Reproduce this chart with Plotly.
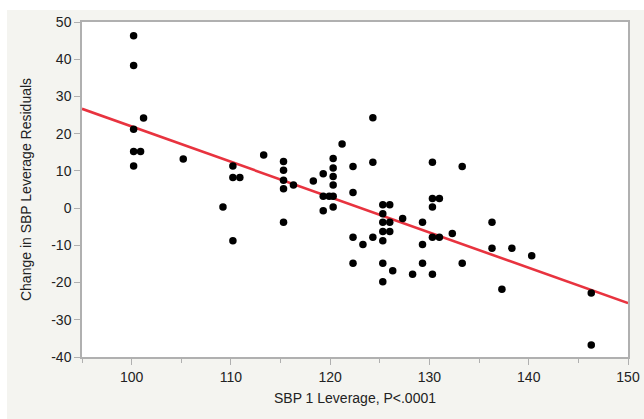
import numpy as np
import plotly.graph_objects as go

# Data (x = SBP 1 Leverage, y = Change in SBP Leverage Residuals)
sbp1_leverage = [
    100.2, 100.2, 101.2, 100.2, 100.2, 100.9, 100.2, 105.2,
    110.2, 110.2, 110.9, 109.2, 110.2, 113.3,
    115.3, 115.3, 115.3, 115.3, 116.3, 115.3, 118.3,
    119.3, 119.3, 119.9, 120.3, 119.3,
    120.3, 120.3, 120.3, 120.3, 120.3, 121.2,
    122.3, 122.3, 122.3, 122.3, 123.3,
    124.3, 124.3, 124.3,
    125.3, 126.0, 125.3, 125.3, 126.0, 125.3, 126.0, 125.3, 125.3, 126.3, 125.3,
    127.3, 128.3, 129.3, 129.3, 129.3,
    130.3, 130.3, 131.0, 130.3, 130.3, 131.0, 130.3,
    132.3, 133.3, 133.3, 136.3, 136.3, 138.3, 137.3, 140.3, 146.3, 146.3,
]
change_residuals = [
    46.3, 38.3, 24.2, 21.2, 15.2, 15.2, 11.3, 13.2,
    11.3, 8.2, 8.2, 0.3, -8.8, 14.3,
    12.5, 10.2, 7.5, 5.2, 6.2, -3.8, 7.3,
    9.2, 3.2, 3.2, 3.2, -0.7,
    13.3, 10.8, 8.5, 6.2, 0.3, 17.2,
    11.2, 4.2, -7.8, -14.8, -9.8,
    24.3, 12.3, -7.8,
    0.9, 0.9, -1.5, -3.8, -3.8, -6.3, -6.3, -8.8, -14.8, -16.8, -19.8,
    -2.8, -17.8, -3.8, -9.8, -14.8,
    12.3, 2.6, 2.6, 0.3, -7.8, -7.8, -17.8,
    -6.8, 11.2, -14.8, -3.8, -10.8, -10.8, -21.8, -12.8, -22.8, -36.8,
]

x_range = [95, 150]
y_tick_vals = [50, 40, 30, 20, 10, 0, -10, -20, -30, -40]
y_tick_text = ["50", "40", "30", "20", "10", "0", "-10", "-20", "-30", "-40"]
x_tick_vals = [100, 110, 120, 130, 140, 150]
x_tick_text = ["100", "110", "120", "130", "140", "150"]

slope, intercept = np.polyfit(sbp1_leverage, change_residuals, 1)
fit_x = np.array(x_range, dtype=float)
fit_y = intercept + slope * fit_x

fig = go.Figure()
fig.add_trace(go.Scatter(
    x=fit_x, y=fit_y, mode="lines",
    line=dict(color="#e8333f", width=2.6),
    hoverinfo="skip", showlegend=False,
))
fig.add_trace(go.Scatter(
    x=sbp1_leverage, y=change_residuals, mode="markers",
    marker=dict(color="black", size=7.5, line=dict(width=0)),
    showlegend=False,
))

W, H = 644, 419
ml, mr, mt, mb = 82, 16, 22, 62
pw, ph = W - ml - mr, H - mt - mb

def px2paper_x(px):
    return (px - ml) / pw

def py2paper_y(py):
    return (H - mb - py) / ph

fig.update_layout(
    width=W, height=H,
    margin=dict(l=ml, r=mr, t=mt, b=mb, autoexpand=False),
    paper_bgcolor="#f4f4f0",
    plot_bgcolor="white",
    font=dict(family="Liberation Sans, Arial, sans-serif", size=14, color="#222222"),
    shapes=[
        dict(type="rect", xref="paper", yref="paper", layer="below",
             x0=px2paper_x(0), x1=px2paper_x(7), y0=py2paper_y(H), y1=py2paper_y(0),
             fillcolor="white", line=dict(width=0)),
        dict(type="rect", xref="paper", yref="paper", layer="below",
             x0=px2paper_x(0), x1=px2paper_x(W), y0=py2paper_y(10), y1=py2paper_y(0),
             fillcolor="white", line=dict(width=0)),
    ],
    xaxis=dict(
        range=x_range, showgrid=False, zeroline=False, automargin=False,
        showline=True, linecolor="#b0b0b0", linewidth=1.5, mirror=True,
        ticks="outside", ticklen=6, tickcolor="#b0b0b0", tickwidth=1.2,
        tickvals=x_tick_vals, ticktext=x_tick_text,
        minor=dict(dtick=5, tick0=95, ticks="outside", ticklen=4,
                   tickcolor="#b0b0b0", tickwidth=1.2, showgrid=False),
        title=dict(text="SBP 1 Leverage, P<.0001", standoff=10,
                   font=dict(size=14)),
    ),
    yaxis=dict(
        range=[-40, 50], showgrid=False, zeroline=False, automargin=False,
        showline=True, linecolor="#b0b0b0", linewidth=1.5, mirror=True,
        ticks="outside", ticklen=6, tickcolor="#b0b0b0", tickwidth=1.2,
        tickvals=y_tick_vals, ticktext=y_tick_text,
        title=dict(text="Change in SBP Leverage Residuals", standoff=16,
                   font=dict(size=14)),
    ),
)

fig.write_html("out.html")
